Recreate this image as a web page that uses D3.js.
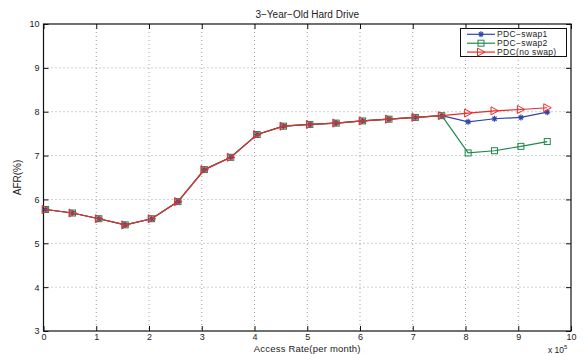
<!DOCTYPE html>
<html>
<head>
<meta charset="utf-8">
<script src="https://cdn.jsdelivr.net/npm/d3@7"></script>
<style>
  body { margin: 0; background: #fff; }
  text { font-family: "Liberation Sans", Arial, sans-serif; fill: #222; }
</style>
</head>
<body>
<script>
// access rate (x 10^5 per month)
const accessRate = [0.04, 0.55, 1.05, 1.55, 2.05, 2.55, 3.05, 3.55, 4.05, 4.55,
                    5.05, 5.55, 6.05, 6.55, 7.05, 7.55, 8.05, 8.55, 9.05, 9.55];
// AFR (%) per series
const swap1 = [5.77, 5.69, 5.56, 5.42, 5.56, 5.95, 6.68, 6.96, 7.48, 7.67,
               7.71, 7.74, 7.79, 7.83, 7.87, 7.91, 7.77, 7.84, 7.87, 7.99];
const swap2 = [5.77, 5.69, 5.56, 5.42, 5.56, 5.95, 6.68, 6.96, 7.48, 7.67,
               7.71, 7.74, 7.79, 7.83, 7.87, 7.91, 7.06, 7.11, 7.21, 7.32];
const noSwap = [5.77, 5.69, 5.56, 5.42, 5.56, 5.95, 6.68, 6.96, 7.48, 7.67,
                7.71, 7.74, 7.79, 7.83, 7.87, 7.91, 7.97, 8.02, 8.05, 8.09];
const seriesNames = ['PDC\u2212swap1', 'PDC\u2212swap2', 'PDC(no swap)'];
const xTicks = [0, 1, 2, 3, 4, 5, 6, 7, 8, 9, 10];
const yTicks = [3, 4, 5, 6, 7, 8, 9, 10];

const width = 584, height = 354;
const plotL = 43.5, plotR = 571, plotT = 24, plotB = 331;

const svg = d3.select('body').append('svg')
  .attr('width', width)
  .attr('height', height);

const x = d3.scaleLinear().domain([0, 10]).range([plotL, plotR]);
const y = d3.scaleLinear().domain([3, 10]).range([plotB, plotT]);

// dotted grid
const grid = svg.append('g');
grid.selectAll('.gx')
  .data(xTicks.slice(1, -1))
  .enter().append('line')
  .attr('x1', d => x(d)).attr('x2', d => x(d))
  .attr('y1', plotT).attr('y2', plotB)
  .attr('stroke', '#888').attr('stroke-width', 0.8)
  .attr('stroke-dasharray', '1,3');
grid.selectAll('.gy')
  .data(yTicks.slice(1, -1))
  .enter().append('line')
  .attr('x1', plotL).attr('x2', plotR)
  .attr('y1', d => y(d)).attr('y2', d => y(d))
  .attr('stroke', '#888').attr('stroke-width', 0.8)
  .attr('stroke-dasharray', '1,3');

// axes (ticks inward, box on)
const axisStyle = g => {
  g.select('.domain').remove();
  g.selectAll('line').attr('stroke', '#111');
  g.selectAll('text').attr('font-size', '9px').attr('fill', '#222')
    .style('font-family', '"Liberation Sans", Arial, sans-serif');
};
const fmt = d3.format('d');
svg.append('g')
  .attr('transform', `translate(0,${plotB})`)
  .call(d3.axisBottom(x).tickValues(xTicks).tickFormat(fmt).tickSizeInner(-5).tickSizeOuter(0).tickPadding(3))
  .call(axisStyle);
svg.append('g')
  .attr('transform', `translate(0,${plotT})`)
  .call(d3.axisTop(x).tickValues(xTicks).tickSizeInner(-5).tickSizeOuter(0).tickFormat(''))
  .call(axisStyle);
svg.append('g')
  .attr('transform', `translate(${plotL},0)`)
  .call(d3.axisLeft(y).tickValues(yTicks).tickFormat(fmt).tickSizeInner(-5).tickSizeOuter(0).tickPadding(4))
  .call(axisStyle);
svg.append('g')
  .attr('transform', `translate(${plotR},0)`)
  .call(d3.axisRight(y).tickValues(yTicks).tickSizeInner(-5).tickSizeOuter(0).tickFormat(''))
  .call(axisStyle);

svg.append('rect')
  .attr('x', plotL).attr('y', plotT)
  .attr('width', plotR - plotL).attr('height', plotB - plotT)
  .attr('fill', 'none').attr('stroke', '#111').attr('stroke-width', 1.2);

// markers
function drawMarker(g, kind, cx, cy, color) {
  if (kind === 'star') {
    const r = 3;
    g.append('path')
      .attr('d', `M${cx - r},${cy}H${cx + r}M${cx},${cy - r}V${cy + r}` +
        `M${cx - r * 0.7},${cy - r * 0.7}L${cx + r * 0.7},${cy + r * 0.7}` +
        `M${cx - r * 0.7},${cy + r * 0.7}L${cx + r * 0.7},${cy - r * 0.7}`)
      .attr('stroke', color).attr('stroke-width', 1.2).attr('fill', 'none');
  } else if (kind === 'square') {
    g.append('rect')
      .attr('x', cx - 3).attr('y', cy - 3).attr('width', 6).attr('height', 6)
      .attr('stroke', color).attr('stroke-width', 1).attr('fill', 'none');
  } else {
    g.append('path')
      .attr('d', `M${cx - 3.5},${cy - 4}L${cx + 4},${cy}L${cx - 3.5},${cy + 4}Z`)
      .attr('stroke', color).attr('stroke-width', 1).attr('fill', 'none');
  }
}

const series = [
  { name: seriesNames[0], values: swap1, color: '#3346a8', marker: 'star' },
  { name: seriesNames[1], values: swap2, color: '#1e8a4c', marker: 'square' },
  { name: seriesNames[2], values: noSwap, color: '#ee2b2b', marker: 'tri' }
];

const line = d3.line()
  .x(d => x(d[0]))
  .y(d => y(d[1]));

series.forEach(s => {
  const pts = accessRate.map((a, i) => [a, s.values[i]]);
  const g = svg.append('g');
  g.append('path')
    .attr('d', line(pts))
    .attr('fill', 'none')
    .attr('stroke', s.color)
    .attr('stroke-width', 1.2);
  pts.forEach(p => drawMarker(g, s.marker, x(p[0]), y(p[1]), s.color));
});

// legend
const lg = svg.append('g');
lg.append('rect')
  .attr('x', 460.5).attr('y', 28.5).attr('width', 106).attr('height', 28)
  .attr('fill', '#fff').attr('stroke', '#111').attr('stroke-width', 1);
series.forEach((s, i) => {
  const ly = 34.3 + i * 8.9;
  lg.append('line')
    .attr('x1', 467).attr('x2', 495).attr('y1', ly).attr('y2', ly)
    .attr('stroke', s.color).attr('stroke-width', 1.2);
  drawMarker(lg, s.marker, 481, ly, s.color);
  lg.append('text')
    .attr('x', 497).attr('y', ly + 3)
    .attr('font-size', '8.5px')
    .attr('letter-spacing', '0.35px')
    .text(s.name);
});

// titles
svg.append('text')
  .attr('x', (plotL + plotR) / 2).attr('y', 18)
  .attr('text-anchor', 'middle').attr('font-size', '10px')
  .text('3\u2212Year\u2212Old Hard Drive');
svg.append('text')
  .attr('x', (plotL + plotR) / 2).attr('y', 352)
  .attr('text-anchor', 'middle').attr('font-size', '9.5px')
  .attr('letter-spacing', '0.2px')
  .text('Access Rate(per month)');
svg.append('text')
  .attr('transform', `translate(21,${(plotT + plotB) / 2}) rotate(-90)`)
  .attr('text-anchor', 'middle').attr('font-size', '10px')
  .text('AFR(%)');
const mult = svg.append('text')
  .attr('x', 548).attr('y', 353)
  .attr('font-size', '8.5px');
mult.append('tspan').text('x 10');
mult.append('tspan').attr('dy', -4).attr('font-size', '6px').text('5');
</script>
</body>
</html>
